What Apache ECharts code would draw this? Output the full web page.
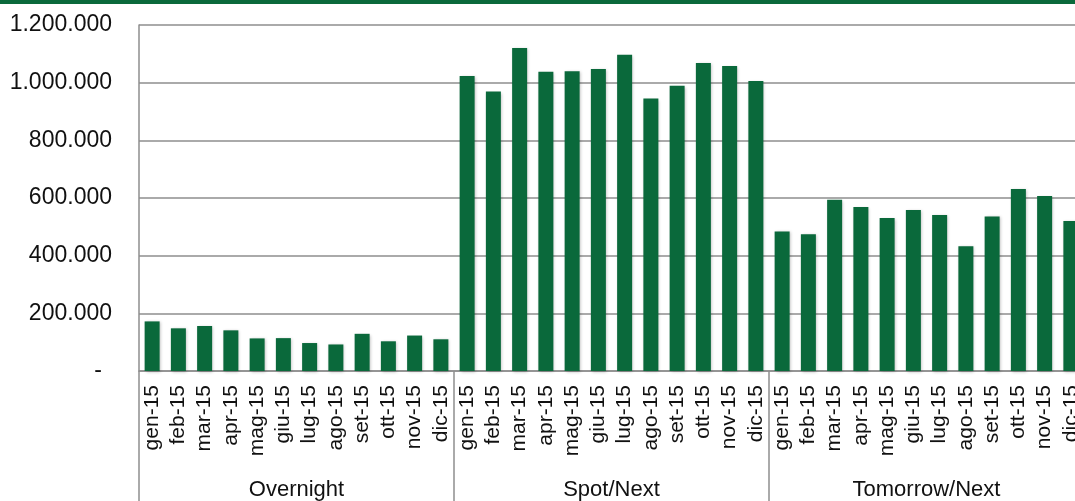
<!DOCTYPE html>
<html>
<head>
<meta charset="utf-8">
<script src="https://cdn.jsdelivr.net/npm/echarts@6/dist/echarts.min.js"></script>
<style>
  html, body { margin: 0; padding: 0; overflow: hidden; background: #fff; }
  #chart { width: 1100px; height: 501px; }
</style>
</head>
<body>
<div id="chart"></div>
<script>
// Monthly volumes 2015 by segment
const months = ['gen-15', 'feb-15', 'mar-15', 'apr-15', 'mag-15', 'giu-15',
                'lug-15', 'ago-15', 'set-15', 'ott-15', 'nov-15', 'dic-15'];
const groups = ['Overnight', 'Spot/Next', 'Tomorrow/Next'];

const overnight = [172000, 148000, 156000, 141000, 113000, 114000,
                   97000, 92000, 129000, 103000, 123000, 110000];
const spotNext = [1023000, 969000, 1120000, 1038000, 1040000, 1047000,
                  1097000, 945000, 989000, 1068000, 1058000, 1006000];
const tomorrowNext = [484000, 474000, 594000, 569000, 531000, 558000,
                      541000, 433000, 536000, 631000, 607000, 520000];

const yTicks = [0, 200000, 400000, 600000, 800000, 1000000, 1200000];

const categories = [].concat(months, months, months);
const values = [].concat(overnight, spotNext, tomorrowNext);

const GREEN = '#0a693b';
const GRID_GRAY = '#8e8e8e';
const FONT = '"Liberation Sans", Arial, sans-serif';

function fmtThousands(v) {
  return String(v).replace(/\B(?=(\d{3})+(?!\d))/g, '.');
}

const chart = echarts.init(document.getElementById('chart'), null, { renderer: 'canvas' });

chart.setOption({
  animation: false,
  graphic: [{
    type: 'rect',
    shape: { x: 0, y: 0, width: 1100, height: 4 },
    style: { fill: GREEN },
    silent: true
  }],
  grid: { left: 139, right: 16, top: 25, bottom: 128, containLabel: false },
  xAxis: [{
    type: 'category',
    data: categories,
    position: 'bottom',
    axisLine: { show: true, lineStyle: { color: GRID_GRAY, width: 1.5 } },
    axisTick: { show: false },
    axisLabel: {
      interval: 0,
      rotate: 90,
      margin: 14,
      color: '#111',
      fontFamily: FONT,
      fontSize: 21
    }
  }, {
    type: 'category',
    data: groups,
    position: 'bottom',
    axisLine: { show: false },
    axisTick: {
      show: true,
      interval: 0,
      length: 130,
      lineStyle: { color: GRID_GRAY, width: 1.5 }
    },
    axisLabel: {
      interval: 0,
      margin: 108,
      color: '#111',
      fontFamily: FONT,
      fontSize: 22,
      verticalAlign: 'top'
    }
  }],
  yAxis: {
    type: 'value',
    min: yTicks[0],
    max: yTicks[yTicks.length - 1],
    interval: yTicks[1] - yTicks[0],
    axisLine: { show: true, lineStyle: { color: GRID_GRAY, width: 1.5 } },
    axisTick: { show: false },
    splitLine: { show: true, lineStyle: { color: GRID_GRAY, width: 1.5 } },
    axisLabel: {
      margin: 27,
      color: '#111',
      fontFamily: FONT,
      fontSize: 23,
      formatter: function (v) {
        return v === 0 ? '{z|-}' : fmtThousands(v);
      },
      rich: {
        z: { fontFamily: FONT, fontSize: 23, color: '#111', padding: [0, 10, 0, 0] }
      }
    }
  },
  series: [{
    type: 'bar',
    data: values,
    xAxisIndex: 0,
    barWidth: 15,
    itemStyle: {
      color: GREEN,
      shadowColor: 'rgba(0,0,0,0.25)',
      shadowBlur: 3,
      shadowOffsetX: 1,
      shadowOffsetY: 1
    }
  }]
});
</script>
</body>
</html>
